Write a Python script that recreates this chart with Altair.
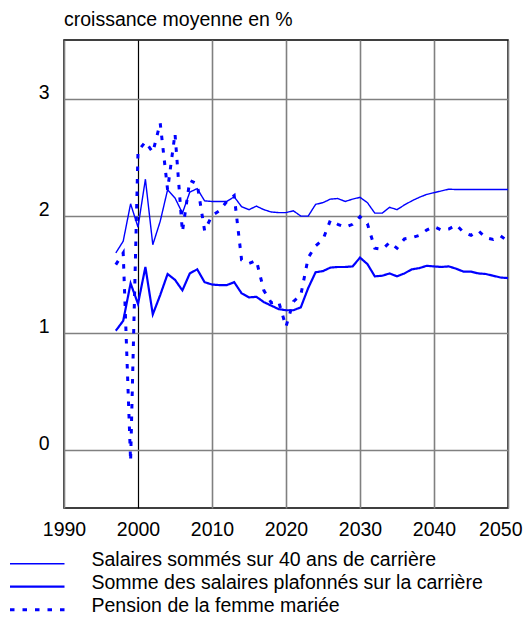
import altair as alt
import pandas as pd

years = list(range(1997, 2051))

salaires_40 = [1.68, 1.78, 2.10, 1.90, 2.31, 1.75, 1.95, 2.22, 2.15, 2.02,
               2.20, 2.23, 2.125, 2.12, 2.12, 2.12, 2.16, 2.075, 2.05, 2.08,
               2.05, 2.03, 2.025, 2.025, 2.04, 1.995, 1.995, 2.095, 2.11, 2.14,
               2.145, 2.12, 2.14, 2.155, 2.11, 2.02, 2.02, 2.07, 2.05, 2.09,
               2.125, 2.155, 2.18, 2.195, 2.21, 2.225, 2.222, 2.222, 2.222, 2.222,
               2.222, 2.222, 2.222, 2.222]

plafonnes = [1.015, 1.10, 1.42, 1.245, 1.56, 1.155, 1.32, 1.50, 1.45, 1.36,
             1.505, 1.54, 1.43, 1.41, 1.405, 1.405, 1.43, 1.335, 1.30, 1.305,
             1.26, 1.23, 1.20, 1.19, 1.19, 1.215, 1.38, 1.515, 1.525, 1.555,
             1.56, 1.56, 1.565, 1.64, 1.585, 1.48, 1.485, 1.505, 1.48, 1.505,
             1.54, 1.55, 1.57, 1.565, 1.56, 1.565, 1.545, 1.52, 1.52, 1.505,
             1.50, 1.485, 1.47, 1.465]

femme_mariee = [1.58, 1.68, -0.10, 2.55, 2.63, 2.54, 2.79, 2.22, 2.70, 1.86,
                2.30, 2.27, 1.87, 2.00, 2.04, 2.12, 2.17, 1.62, 1.59, 1.615,
                1.36, 1.255, 1.265, 1.05, 1.265, 1.32, 1.64, 1.74, 1.795, 1.96,
                1.925, 1.90, 1.925, 1.99, 1.93, 1.72, 1.71, 1.77, 1.72, 1.80,
                1.81, 1.83, 1.875, 1.905, 1.875, 1.885, 1.92, 1.855, 1.83, 1.87,
                1.81, 1.795, 1.825, 1.78]

series_names = ["Salaires sommés sur 40 ans de carrière",
                "Somme des salaires plafonnés sur la carrière",
                "Pension de la femme mariée"]

x_ticks = [1990, 2000, 2010, 2020, 2030, 2040, 2050]
y_ticks = [0, 1, 2, 3]

FONT = "Liberation Sans"

rows = []
for name, vals in zip(series_names, [salaires_40, plafonnes, femme_mariee]):
    for yr, v in zip(years, vals):
        rows.append({"annee": yr, "valeur": v, "serie": name})
df = pd.DataFrame(rows)

color_enc = alt.Color("serie:N", scale=alt.Scale(domain=series_names,
                      range=["#0000ff", "#0000ff", "#0000ff"]), legend=None)
width_enc = alt.StrokeWidth("serie:N", scale=alt.Scale(domain=series_names,
                            range=[1.4, 3.0, 1.4]), legend=None)
dash_enc = alt.StrokeDash("serie:N", scale=alt.Scale(domain=series_names,
                          range=[[1, 0], [1, 0], [4.5, 8]]), legend=None)

last_tick = "datum.value === 2050"

lines = alt.Chart(df).mark_line().encode(
    x=alt.X("annee:Q",
            scale=alt.Scale(domain=[1990, 2050], nice=False, zero=False),
            axis=alt.Axis(values=x_ticks, format="d", title=None,
                          labelFontSize=19.5, labelFont=FONT, labelColor="black",
                          labelPadding=12, labelFlush=False, ticks=False,
                          labelAlign={"condition": {"test": last_tick, "value": "right"},
                                      "value": "center"},
                          labelOffset={"condition": {"test": last_tick, "value": 14},
                                       "value": 0},
                          domain=False, grid=True,
                          gridColor={"condition": {"test": "datum.value === 2000", "value": "black"},
                                     "value": "#808080"},
                          gridWidth={"condition": {"test": "datum.value === 2000", "value": 1.2},
                                     "value": 1.6})),
    y=alt.Y("valeur:Q",
            scale=alt.Scale(domain=[-0.5, 3.5], nice=False, zero=False),
            axis=alt.Axis(values=y_ticks, title=None, labelFontSize=19.5,
                          labelFont=FONT, labelColor="black",
                          labelBaseline="alphabetic", labelPadding=15,
                          ticks=False, domain=False, grid=True,
                          gridColor="#808080", gridWidth=1.6)),
    color=color_enc,
    strokeWidth=width_enc,
    strokeDash=dash_enc,
    order="annee:Q",
)

leg_df = pd.DataFrame({"serie": series_names})

leg_rules = alt.Chart(leg_df).mark_rule().encode(
    x=alt.value(-54), x2=alt.value(0.5),
    y=alt.Y("serie:N", sort=series_names,
            scale=alt.Scale(type="point", range=[523.7, 569.7], padding=0),
            axis=None),
    color=color_enc,
    strokeWidth=width_enc,
    strokeDash=dash_enc,
)

leg_text = alt.Chart(leg_df).mark_text(
    align="left", baseline="alphabetic", fontSize=19.5, font=FONT, color="black"
).encode(
    x=alt.value(27.5),
    y=alt.Y("serie:N", sort=series_names,
            scale=alt.Scale(type="point", range=[526, 572], padding=0),
            axis=None),
    text="serie:N",
)

chart = alt.layer(lines, leg_rules, leg_text).resolve_scale(
    y="independent"
).properties(
    width=444,
    height=468,
    title=alt.TitleParams("croissance moyenne en %", anchor="start", frame="group",
                          fontSize=19.5, font=FONT, fontWeight="normal",
                          color="black", offset=10),
    padding={"left": 56, "top": 32, "right": 15, "bottom": 110},
    autosize=alt.AutoSizeParams(type="none"),
).configure_view(
    stroke="black", strokeWidth=1.5
)

chart.save("out.html", embed_options={"renderer": "svg", "actions": False})
